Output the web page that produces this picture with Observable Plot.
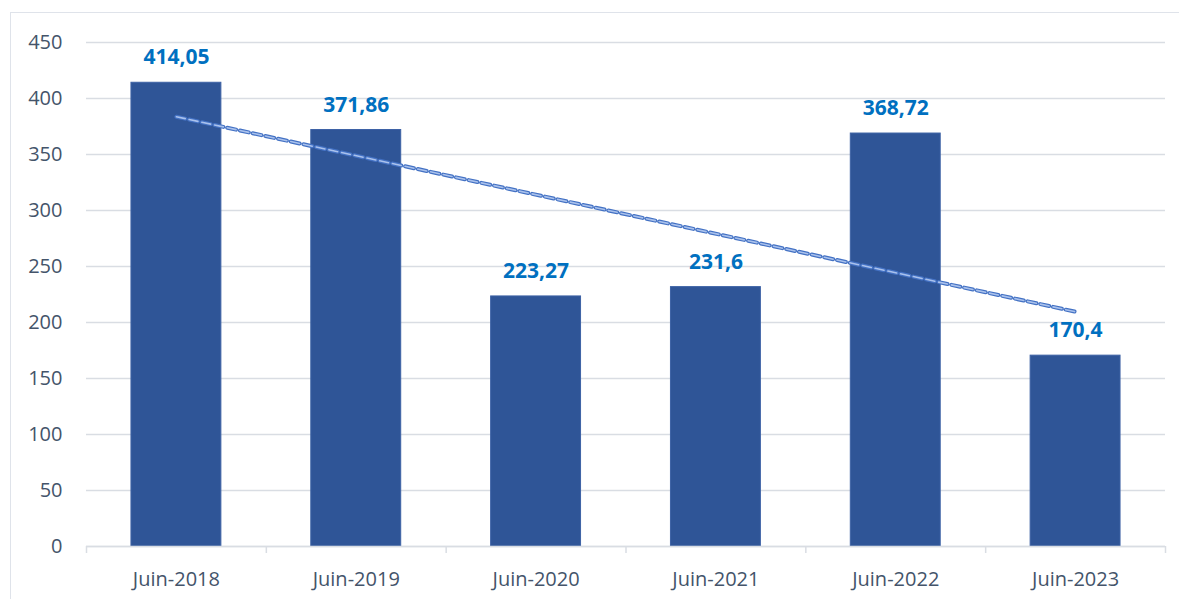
<!DOCTYPE html>
<html>
<head>
<meta charset="utf-8">
<script src="https://cdn.jsdelivr.net/npm/d3@7"></script>
<script src="https://cdn.jsdelivr.net/npm/@observablehq/plot@0.6"></script>
<style>
  html, body { margin: 0; padding: 0; background: #fff; }
  #wrap { position: relative; width: 1179px; height: 599px; overflow: hidden; }
  #frame { position: absolute; left: 10px; top: 12px; right: -5px; bottom: -5px;
           border-top: 1.5px solid #dfe3ea; border-left: 1.5px solid #dfe3ea; }
  #chart { position: absolute; left: 0; top: 0; }
</style>
</head>
<body>
<div id="wrap"><div id="frame"></div><div id="chart"></div></div>
<script>
const categories = ["Juin-2018", "Juin-2019", "Juin-2020", "Juin-2021", "Juin-2022", "Juin-2023"];
const values = [414.05, 371.86, 223.27, 231.6, 368.72, 170.4];
const yTicks = [0, 50, 100, 150, 200, 250, 300, 350, 400, 450];

const data = categories.map((c, i) => ({cat: c, value: values[i], idx: i}));

// linear trend (least squares) over category index
const n = values.length;
const mx = d3.mean(data, d => d.idx), my = d3.mean(values);
const slope = d3.sum(data, d => (d.idx - mx) * (d.value - my)) / d3.sum(data, d => (d.idx - mx) ** 2);
const trend = [data[0], data[n - 1]].map(d => ({cat: d.cat, value: my + slope * (d.idx - mx)}));

const fmt = v => String(v).replace(".", ",");
const W = 1179, H = 599, mL = 86, mR = 14, mT = 42, mB = 53;
const step = (W - mL - mR) / categories.length;

const chart = Plot.plot({
  width: W, height: H,
  marginLeft: mL, marginRight: mR, marginTop: mT, marginBottom: mB,
  style: {fontFamily: "'Open Sans', sans-serif", background: "transparent"},
  x: {domain: categories, paddingInner: 0.5, paddingOuter: 0.25, round: false, label: null},
  y: {domain: [0, 450], label: null},
  marks: [
    Plot.gridY(yTicks, {stroke: "#d9dde3", strokeOpacity: 1, strokeWidth: 1.5}),
    Plot.axisY(yTicks, {tickSize: 0, tickPadding: 24, fontSize: 20, fill: "#44546a", label: null}),
    Plot.barY(data, {x: "cat", y: "value", fill: "#2f5597", stroke: "#3d62a5", strokeWidth: 1}),
    Plot.ruleY([0], {stroke: "#d9dde3", strokeWidth: 1.5}),
    Plot.axisX(categories, {tickSize: 7, tickFormat: () => "", dx: -step / 2, stroke: "#d9dde3", strokeWidth: 1.5}),
    Plot.axisX([categories[n - 1]], {tickSize: 7, tickFormat: () => "", dx: step / 2, stroke: "#d9dde3", strokeWidth: 1.5}),
    Plot.axisX(categories, {tickSize: 0, tickPadding: 25, fontSize: 20, fill: "#44546a", label: null}),
    Plot.line(trend, {x: "cat", y: "value", stroke: "#4472c4", strokeWidth: 4, strokeDasharray: "9,4"}),
    Plot.line(trend, {x: "cat", y: "value", stroke: "#a9c1ec", strokeWidth: 1.6, strokeDasharray: "9,4"}),
    Plot.text(data, {x: "cat", y: "value", text: d => fmt(d.value), dy: -25, fill: "#0070c0",
                     fontWeight: "bold", fontSize: 21})
  ]
});
document.getElementById("chart").appendChild(chart);
</script>
</body>
</html>
